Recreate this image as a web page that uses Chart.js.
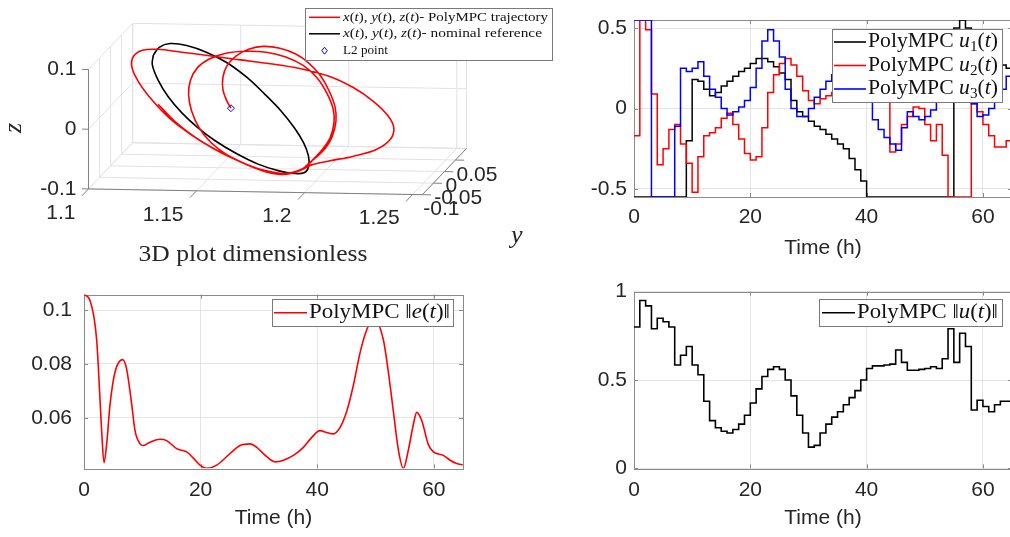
<!DOCTYPE html>
<html><head><meta charset="utf-8">
<script src="https://cdn.jsdelivr.net/npm/chart.js@4.4.1/dist/chart.umd.min.js"></script>
<style>
html,body{margin:0;padding:0;background:#fff;overflow:hidden;width:1010px;height:537px;position:relative;}
canvas{position:absolute;display:block;}
</style></head><body>
<canvas id="c3d" width="560" height="270" style="left:0;top:0"></canvas>
<canvas id="cu" width="452" height="270" style="left:560px;top:0"></canvas>
<canvas id="ce" width="500" height="267" style="left:0;top:270px"></canvas>
<canvas id="cn" width="452" height="267" style="left:560px;top:270px"></canvas>
<script>
// ---------------- DATA ----------------
const hours = [0,1,2,3,4,5,6,7,8,9,10,11,12,13,14,15,16,17,18,19,20,21,22,23,24,25,26,27,28,29,30,31,32,33,34,35,36,37,38,39,40,41,42,43,44,45,46,47,48,49,50,51,52,53,54,55,56,57,58,59,60,61,62,63,64,65];
const u1 = [-0.55,-0.55,-0.55,-0.55,-0.55,-0.55,-0.55,-0.55,-0.55,-0.2,
  0.18,0.17,0.12,0.08,0.10,0.14,0.17,0.20,0.23,0.25,
  0.28,0.31,0.31,0.29,0.26,0.22,0.18,0.05,-0.02,-0.05,
  -0.08,-0.11,-0.13,-0.16,-0.19,-0.22,-0.25,-0.31,-0.38,-0.45,
  -0.55,-0.55,-0.55,-0.55,-0.55,-0.55,-0.55,-0.55,-0.55,-0.55,
  -0.55,-0.55,-0.55,-0.55,-0.55,0.50,0.55,0.50,0.45,0.40,
  0.36,0.33,0.30,0.27,0.25,0.25];
const u2 = [-0.17,0.55,0.49,0.09,-0.35,-0.25,-0.13,-0.10,-0.22,-0.34,
  -0.52,-0.30,-0.17,-0.15,-0.12,-0.06,-0.03,-0.10,-0.19,-0.28,
  -0.32,-0.30,-0.12,0.10,0.21,0.28,0.31,0.27,0.20,0.11,
  0.05,0.03,0.06,0.08,0.10,0.12,0.12,0.10,0.08,0.07,
  0.08,0.10,0.09,0.07,-0.27,-0.22,-0.10,-0.05,0.01,0.00,
  -0.10,-0.20,-0.10,-0.29,-0.55,-0.55,-0.55,-0.55,0.03,-0.02,
  -0.10,-0.17,-0.24,-0.24,-0.20,-0.20];
const u3 = [0.55,0.55,0.55,-0.55,-0.55,-0.55,-0.55,-0.11,0.25,0.23,
  0.25,0.29,0.20,0.12,0.07,0.00,-0.04,-0.02,0.01,0.05,
  0.13,0.25,0.42,0.49,0.42,0.32,0.12,0.00,-0.05,-0.05,
  0.00,0.07,0.12,0.17,0.21,0.24,0.25,0.22,0.18,0.12,
  0.06,-0.07,-0.13,-0.18,-0.22,-0.26,-0.12,-0.02,-0.05,-0.07,
  -0.05,-0.01,0.05,0.12,0.20,0.26,0.30,0.20,0.03,-0.05,
  -0.04,0.00,0.07,0.12,0.20,0.20];
const uNorm = [0.80,0.95,0.92,0.79,0.85,0.83,0.80,0.585,0.64,0.69,
  0.585,0.53,0.38,0.27,0.23,0.21,0.20,0.22,0.25,0.30,
  0.37,0.45,0.52,0.56,0.575,0.56,0.50,0.41,0.30,0.20,
  0.12,0.13,0.20,0.25,0.29,0.32,0.36,0.40,0.44,0.50,
  0.565,0.58,0.58,0.585,0.59,0.67,0.60,0.555,0.555,0.56,
  0.565,0.575,0.565,0.62,0.79,0.60,0.765,0.69,0.33,0.385,
  0.35,0.32,0.36,0.38,0.38,0.38];
const errT = [0,1.03,2.17,2.74,3.03,3.43,3.89,4.46,5.32,6.63,7.32,8.18,8.75,9.61,10.18,11.32,13.04,14.18,15.9,17.61,18.76,19.9,21.05,22.76,25.05,26.76,28.48,29.62,31.34,32.77,34.2,35.91,37.63,39.06,40.49,41.63,42.77,43.92,45.06,46.2,47.35,48.49,49.63,51.34,52.2,53.06,53.92,54.78,55.63,56.49,57.06,57.92,59.06,59.92,61.63,62.78,63.92,64.95];
const errV = [0.1058,0.1036,0.089,0.067,0.055,0.0433,0.0503,0.0648,0.077,0.0816,0.078,0.065,0.0552,0.0503,0.0497,0.0509,0.052,0.0515,0.0485,0.0473,0.045,0.0424,0.0412,0.0424,0.0467,0.0497,0.0503,0.049,0.0455,0.0436,0.0442,0.046,0.049,0.0527,0.0552,0.0545,0.054,0.0564,0.0624,0.0721,0.0842,0.0927,0.097,0.089,0.077,0.0624,0.048,0.0412,0.048,0.0576,0.062,0.059,0.050,0.0473,0.046,0.0442,0.043,0.0425];
// 3D: nominal reference orbit and PolyMPC trajectory (dimensionless x, y, z)
const refX = [1.1198,1.1193,1.1220,1.1266,1.1330,1.1402,1.1484,1.1580,1.1680,1.1775,1.1852,1.1898,1.1916,1.1916,1.1893,1.1852,1.1789,1.1711,1.1630,1.1539,1.1443,1.1352,1.1275,1.1225,1.1198];
const refY = [0,0,0,0,0,0,0,0,0,0,0,0,0,0,0,0,0,0,0,0,0,0,0,0,0];
const refZ = [0.0867,0.0706,0.0449,0.0178,-0.0092,-0.0330,-0.0550,-0.0754,-0.0925,-0.1032,-0.1076,-0.1057,-0.0959,-0.0781,-0.0557,-0.0318,-0.0031,0.0254,0.0523,0.0760,0.0931,0.1038,0.1065,0.0998,0.0867];
const trajX = [1.1557,1.1539,1.1520,1.1520,1.1539,1.1580,1.1639,1.1707,1.1784,1.1857,1.1916,1.1970,1.2011,1.2039,1.2043,1.2025,1.1993,1.1952,1.1920,
  1.1889,1.1839,1.1775,1.1693,1.1593,1.1484,1.1375,1.1275,1.1193,1.1130,1.1098,1.1107,1.1148,1.1216,
  1.1330,1.1466,1.1602,1.1739,1.1875,1.2011,1.2125,1.2216,1.2284,1.2311,1.2293,1.2230,1.2125,1.2011,1.1930,
  1.1875,1.1807,1.1716,1.1625,1.1534,1.1466,1.1411,1.1375,1.1361,1.1370,1.1402,1.1457,1.1534,1.1625,1.1720,1.1811,1.1893,1.1957,1.2002,1.2030,1.2034,1.2016,1.1980,1.1939,1.1911,
  1.1866,1.1793,1.1702,1.1602,1.1493,1.1389,1.1293,1.1220];
const trajY = [0,0,0,0,0,0,0,0,0,0,0,0,0,0,0,0,0,0,0,
  0,0,0,0,0,0,0,0,0,0,0,0,0,0,
  0,0,0,0,0,0,0,0,0,0,0,0,0,0,0,
  0,0,0,0,0,0,0,0,0,0,0,0,0,0,0,0,0,0,0,0,0,0,0,0,0,
  0,0,0,0,0,0,0,0];
const trajZ = [0,0.0114,0.0307,0.0516,0.0711,0.0875,0.0991,0.1044,0.1017,0.0925,0.0783,0.0577,0.0321,0.0049,-0.0193,-0.0452,-0.0648,-0.0795,-0.0894,
  -0.0993,-0.1060,-0.1081,-0.1021,-0.0882,-0.0696,-0.0460,-0.0193,0.0109,0.0411,0.0667,0.0845,0.0945,0.0965,
  0.0924,0.0868,0.0812,0.0756,0.0684,0.0563,0.0377,0.0157,-0.0081,-0.0289,-0.0484,-0.0649,-0.0768,-0.0856,-0.0926,
  -0.1026,-0.1079,-0.1036,-0.0929,-0.0773,-0.0584,-0.0345,-0.0057,0.0216,0.0459,0.0670,0.0819,0.0920,0.0958,0.0948,0.0873,0.0733,0.0527,0.0272,0.0016,-0.0210,-0.0469,-0.0665,-0.0829,-0.0943,
  -0.1043,-0.1096,-0.1037,-0.0898,-0.0711,-0.0492,-0.0224,0.0046];
const l2Point = [1.1557, 0, 0];
// ticks
const timeTicks = [0,20,40,60];
const timeLabels = ['0','20','40','60'];
const uTicks = [-0.5,0,0.5];
const uLabels = ['-0.5','0','0.5'];
const errTicks = [0.06,0.08,0.1];
const errLabels = ['0.06','0.08','0.1'];
const normTicks = [0,0.5,1];
const normLabels = ['0','0.5','1'];
const xTicks3 = [1.1,1.15,1.2,1.25];
const xLabels3 = ['1.1','1.15','1.2','1.25'];
const yTicks3 = [-0.1,-0.05,0,0.05];
const yLabels3 = ['-0.1','-0.05','0','0.05'];
const zTicks3 = [-0.1,0,0.1];
const zLabels3 = ['-0.1','0','0.1'];
const xLim3 = [1.1,1.2545], yLim3 = [-0.1,0.1], zLim3 = [-0.1,0.1];

// ---------------- STYLE ----------------
const SANS = '"Liberation Sans", Arial, Helvetica, sans-serif';
const SERIF = '"Liberation Serif", "Times New Roman", serif';
const TXT = '#262626', GRID = '#e4e4e4', BOX = '#8a8a8a';
// 3D view (oblique projection onto the 1:1 view plane)
const V3 = {ox:85, oy:191, xu:2200, xv:38.8, yu:225, yv:-240, zv:-620};
function proj(x,y,z){
  const dx=x-xLim3[0], dy=y-yLim3[0], dz=z-zLim3[0];
  return {x: V3.ox + dx*V3.xu + dy*V3.yu, y: V3.oy + dx*V3.xv + dy*V3.yv + dz*V3.zv};
}
function rfont(s,size){
  if(s==='i') return 'italic '+size+'px '+SERIF;
  if(s==='s') return (size*0.7).toFixed(1)+'px '+SERIF;
  return size+'px '+SERIF;
}
function drawRich(ctx, runs, x, y, size, targetW, align, color){
  let w=0;
  const parts = runs.map(([t,s])=>{ctx.font=rfont(s,size); const m=ctx.measureText(t).width; w+=m; return {t,s,m,f:ctx.font};});
  const sc = targetW ? targetW/w : 1;
  ctx.save(); ctx.translate(x,y); ctx.scale(sc,1);
  let cx = align==='center' ? -w/2 : (align==='right' ? -w : 0);
  ctx.textBaseline='middle'; ctx.textAlign='left'; ctx.fillStyle=color||'#111';
  parts.forEach(p=>{ctx.font=p.f; ctx.fillText(p.t, cx, p.s==='s'? size*0.28 : 0); cx+=p.m;});
  ctx.restore();
}
function legendPlugin(spec){
  return {id:'lg', afterDraw(chart){
    const ctx=chart.ctx, b=spec.box;
    ctx.save();
    ctx.fillStyle='#fff'; ctx.fillRect(b[0],b[1],b[2]-b[0],b[3]-b[1]);
    ctx.strokeStyle='#7a7a7a'; ctx.lineWidth=1; ctx.strokeRect(b[0]+0.5,b[1]+0.5,b[2]-b[0],b[3]-b[1]);
    spec.rows.forEach(r=>{
      if(r.marker){
        const cx=(spec.line[0]+spec.line[1])/2, s=spec.mk||3.5;
        ctx.beginPath(); ctx.moveTo(cx,r.y-s); ctx.lineTo(cx+s*0.8,r.y); ctx.lineTo(cx,r.y+s); ctx.lineTo(cx-s*0.8,r.y); ctx.closePath();
        ctx.strokeStyle=r.color; ctx.lineWidth=1; ctx.stroke();
      } else {
        ctx.beginPath(); ctx.moveTo(spec.line[0],r.y); ctx.lineTo(spec.line[1],r.y);
        ctx.strokeStyle=r.color; ctx.lineWidth=spec.lw||1.6; ctx.stroke();
      }
      drawRich(ctx, r.runs, spec.textX, r.y, spec.size, r.w, 'left', '#111');
    });
    ctx.restore();
  }};
}
const boxPlugin = {id:'box', beforeDatasetsDraw(chart){
  const a=chart.chartArea, ctx=chart.ctx;
  ctx.save(); ctx.strokeStyle=BOX; ctx.lineWidth=1;
  ctx.strokeRect(Math.round(a.left)+0.5, Math.round(a.top)+0.5, Math.round(a.right-a.left), Math.round(a.bottom-a.top));
  const sx=chart.scales.x, sy=chart.scales.y; const L=4;
  ctx.beginPath();
  sx.ticks.forEach(t=>{const p=Math.round(sx.getPixelForValue(t.value))+0.5; ctx.moveTo(p,a.bottom); ctx.lineTo(p,a.bottom-L); ctx.moveTo(p,a.top); ctx.lineTo(p,a.top+L);});
  sy.ticks.forEach(t=>{const p=Math.round(sy.getPixelForValue(t.value))+0.5; ctx.moveTo(a.left,p); ctx.lineTo(a.left+L,p); ctx.moveTo(a.right,p); ctx.lineTo(a.right-L,p);});
  ctx.stroke(); ctx.restore();
}};

function make2D(id, c){
  return new Chart(document.getElementById(id), {
    type:'line',
    data:{datasets:c.datasets},
    options:{
      responsive:false, animation:false, devicePixelRatio:1,
      layout:{padding:{top:c.padTop,right:c.padRight,left:0,bottom:0}},
      plugins:{legend:{display:false}, tooltip:{enabled:false}},
      elements:{point:{radius:0}},
      scales:{
        x:{type:'linear', min:0, max:65,
          afterBuildTicks:s=>{s.ticks=timeTicks.map(v=>({value:v}));},
          afterFit:s=>{s.height=c.xH;},
          ticks:{autoSkip:false, maxRotation:0, font:{family:SANS,size:21}, color:TXT, padding:c.xPad, callback:(v,i)=>timeLabels[i]},
          grid:{color:GRID, drawTicks:false}, border:{display:false},
          title:{display:true, text:'Time (h)', font:{family:SANS,size:21}, color:TXT, padding:{top:0,bottom:c.titlePad}}},
        y:{type:'linear', min:c.yMin, max:c.yMax,
          afterBuildTicks:s=>{s.ticks=c.yTicks.map(v=>({value:v}));},
          afterFit:s=>{s.width=c.yW;},
          ticks:{autoSkip:false, font:{family:SANS,size:21}, color:TXT, padding:c.yPad, callback:(v,i)=>c.yLabels[i]},
          grid:{color:GRID, drawTicks:false}, border:{display:false}}
      }
    },
    plugins:[boxPlugin, legendPlugin(c.legend)]
  });
}
const stairs = arr => hours.map((t,i)=>({x:t, y:arr[i]}));

// top-right: controls
make2D('cu', {
  padTop:20, padRight:0, xH:73, yW:74, xPad:8, titlePad:9, yPad:7,
  yMin:-0.55, yMax:0.55, yTicks:uTicks, yLabels:uLabels,
  datasets:[
    {data:stairs(u1), stepped:'before', borderColor:'#000000', borderWidth:1.5, order:3},
    {data:stairs(u2), stepped:'before', borderColor:'#ff0000', borderWidth:1.5, order:2},
    {data:stairs(u3), stepped:'before', borderColor:'#0000ff', borderWidth:1.5, order:1}
  ],
  legend:{box:[272,29,442,102], line:[274,306], textX:308, size:20, rows:[
    {y:42, color:'#000', w:130, runs:[['PolyMPC ','n'],['u','i'],['1','s'],['(','n'],['t','i'],[')','n']]},
    {y:65.5, color:'#ff0000', w:130, runs:[['PolyMPC ','n'],['u','i'],['2','s'],['(','n'],['t','i'],[')','n']]},
    {y:89, color:'#0000ff', w:130, runs:[['PolyMPC ','n'],['u','i'],['3','s'],['(','n'],['t','i'],[')','n']]}
  ]}
});
// bottom-left: error norm
make2D('ce', {
  padTop:20.7, padRight:37, xH:68.7, yW:84, xPad:9, titlePad:6, yPad:12,
  yMin:0.0412, yMax:0.1058, yTicks:errTicks, yLabels:errLabels,
  datasets:[
    {data:errT.map((t,i)=>({x:t,y:errV[i]})), cubicInterpolationMode:'monotone', borderColor:'#ff0000', borderWidth:1.6}
  ],
  legend:{box:[272,29,453,56], line:[274,307], textX:309, size:20, rows:[
    {y:42.7, color:'#ff0000', w:141, runs:[['PolyMPC ','n'],['\u2016','n'],['e','i'],['(','n'],['t','i'],[')','n'],['\u2016','n']]}
  ]}
});
// bottom-right: control norm
make2D('cn', {
  padTop:21.7, padRight:0, xH:68.7, yW:74, xPad:9, titlePad:6, yPad:7,
  yMin:0, yMax:1, yTicks:normTicks, yLabels:normLabels,
  datasets:[
    {data:stairs(uNorm), stepped:'before', borderColor:'#000000', borderWidth:1.6}
  ],
  legend:{box:[259,29,442,56], line:[262,295], textX:297, size:20, rows:[
    {y:42.7, color:'#000', w:141, runs:[['PolyMPC ','n'],['\u2016','n'],['u','i'],['(','n'],['t','i'],[')','n'],['\u2016','n']]}
  ]}
});

// ---------------- 3D plot ----------------
const scene3d = {
  id:'scene3d',
  beforeDatasetsDraw(chart){
    const ctx=chart.ctx, sx=chart.scales.x, sy=chart.scales.y;
    const P=(x,y,z)=>{const p=proj(x,y,z); return [sx.getPixelForValue(p.x), sy.getPixelForValue(p.y)];};
    const seg=(a,b)=>{ctx.moveTo(a[0],a[1]); ctx.lineTo(b[0],b[1]);};
    const [x0,x1]=xLim3, [y0,y1]=yLim3, [z0,z1]=zLim3;
    const xs=[...xTicks3, x1], ys=[...yTicks3, y1], zs=[...zTicks3];
    ctx.save();
    ctx.beginPath(); ctx.strokeStyle='#e2e2e2'; ctx.lineWidth=1;
    xs.forEach(x=>{ seg(P(x,y0,z0),P(x,y1,z0)); seg(P(x,y1,z0),P(x,y1,z1)); });
    ys.forEach(y=>{ seg(P(x0,y,z0),P(x1,y,z0)); seg(P(x0,y,z0),P(x0,y,z1)); });
    zs.forEach(z=>{ seg(P(x0,y0,z),P(x0,y1,z)); seg(P(x0,y1,z),P(x1,y1,z)); });
    ctx.stroke();
    ctx.beginPath(); ctx.strokeStyle='#808080'; ctx.lineWidth=1;
    seg(P(x0,y0,z0),P(x0,y0,z1));
    seg(P(x0,y0,z0),P(x1,y0,z0));
    seg(P(x1,y0,z0),P(x1,y1,z0));
    xTicks3.forEach(x=>seg(P(x,y0,z0),P(x,y0-0.03,z0)));
    zTicks3.forEach(z=>seg(P(x0,y0,z),P(x0-0.003,y0,z)));
    yTicks3.forEach(y=>seg(P(x1,y,z0),P(x1+0.004,y,z0)));
    ctx.stroke();
    ctx.restore();
  },
  afterDraw(chart){
    const ctx=chart.ctx, sx=chart.scales.x, sy=chart.scales.y;
    const P=(x,y,z)=>{const p=proj(x,y,z); return [sx.getPixelForValue(p.x), sy.getPixelForValue(p.y)];};
    const [x0,x1]=xLim3, [y0,y1]=yLim3, [z0,z1]=zLim3;
    ctx.save();
    ctx.fillStyle=TXT; ctx.font='21px '+SANS; ctx.textBaseline='middle';
    ctx.textAlign='right';
    xTicks3.forEach((x,i)=>{const p=P(x,y0,z0); ctx.fillText(xLabels3[i], p[0]-13, p[1]+24);});
    zTicks3.forEach((z,i)=>{const p=P(x0,y0,z); ctx.fillText(zLabels3[i], p[0]-12, p[1]);});
    ctx.textAlign='left';
    yTicks3.forEach((y,i)=>{const p=P(x1,y,z0); ctx.fillText(yLabels3[i], p[0]+1, p[1]+15);});
    // axis titles
    drawRich(ctx, [['3D plot dimensionless','n']], 253, 255, 24, 229, 'center', TXT);
    drawRich(ctx, [['y','i']], 511, 236, 26, 0, 'left', TXT);
    ctx.save(); ctx.translate(14,128); ctx.rotate(-Math.PI/2);
    drawRich(ctx, [['z','i']], 0, 0, 26, 0, 'center', TXT);
    ctx.restore();
    ctx.restore();
  }
};
const pts = (X,Y,Z)=>X.map((x,i)=>{const p=proj(x,Y[i],Z[i]); return {x:p.x,y:p.y};});
new Chart(document.getElementById('c3d'), {
  type:'scatter',
  data:{datasets:[
    {data:pts(refX,refY,refZ), showLine:true, borderColor:'#000000', borderWidth:1.6, pointRadius:0, tension:0.35, order:3},
    {data:pts(trajX,trajY,trajZ), showLine:true, borderColor:'#ff0000', borderWidth:1.6, pointRadius:0, tension:0.35, order:2},
    {data:pts([l2Point[0]],[l2Point[1]],[l2Point[2]]), showLine:false, pointStyle:'rectRot', pointRadius:3.5, borderColor:'#0000ff', backgroundColor:'rgba(0,0,0,0)', borderWidth:1, order:1}
  ]},
  options:{responsive:false, animation:false, devicePixelRatio:1, layout:{padding:0},
    plugins:{legend:{display:false}, tooltip:{enabled:false}},
    scales:{x:{type:'linear', display:false, min:0, max:560}, y:{type:'linear', display:false, min:0, max:270, reverse:true}}},
  plugins:[scene3d, legendPlugin({box:[305,8,552,60], line:[309,340], textX:343, size:12.5, lw:1.5, mk:3.5, rows:[
    {y:17.3, color:'#ff0000', w:205, runs:[['x','i'],['(','n'],['t','i'],['), ','n'],['y','i'],['(','n'],['t','i'],['), ','n'],['z','i'],['(','n'],['t','i'],[')- PolyMPC trajectory','n']]},
    {y:33.8, color:'#000', w:199, runs:[['x','i'],['(','n'],['t','i'],['), ','n'],['y','i'],['(','n'],['t','i'],['), ','n'],['z','i'],['(','n'],['t','i'],[')- nominal reference','n']]},
    {y:50.7, color:'#0000ff', marker:true, w:45, runs:[['L2 point','n']]}
  ]})]
});
</script>
</body></html>
